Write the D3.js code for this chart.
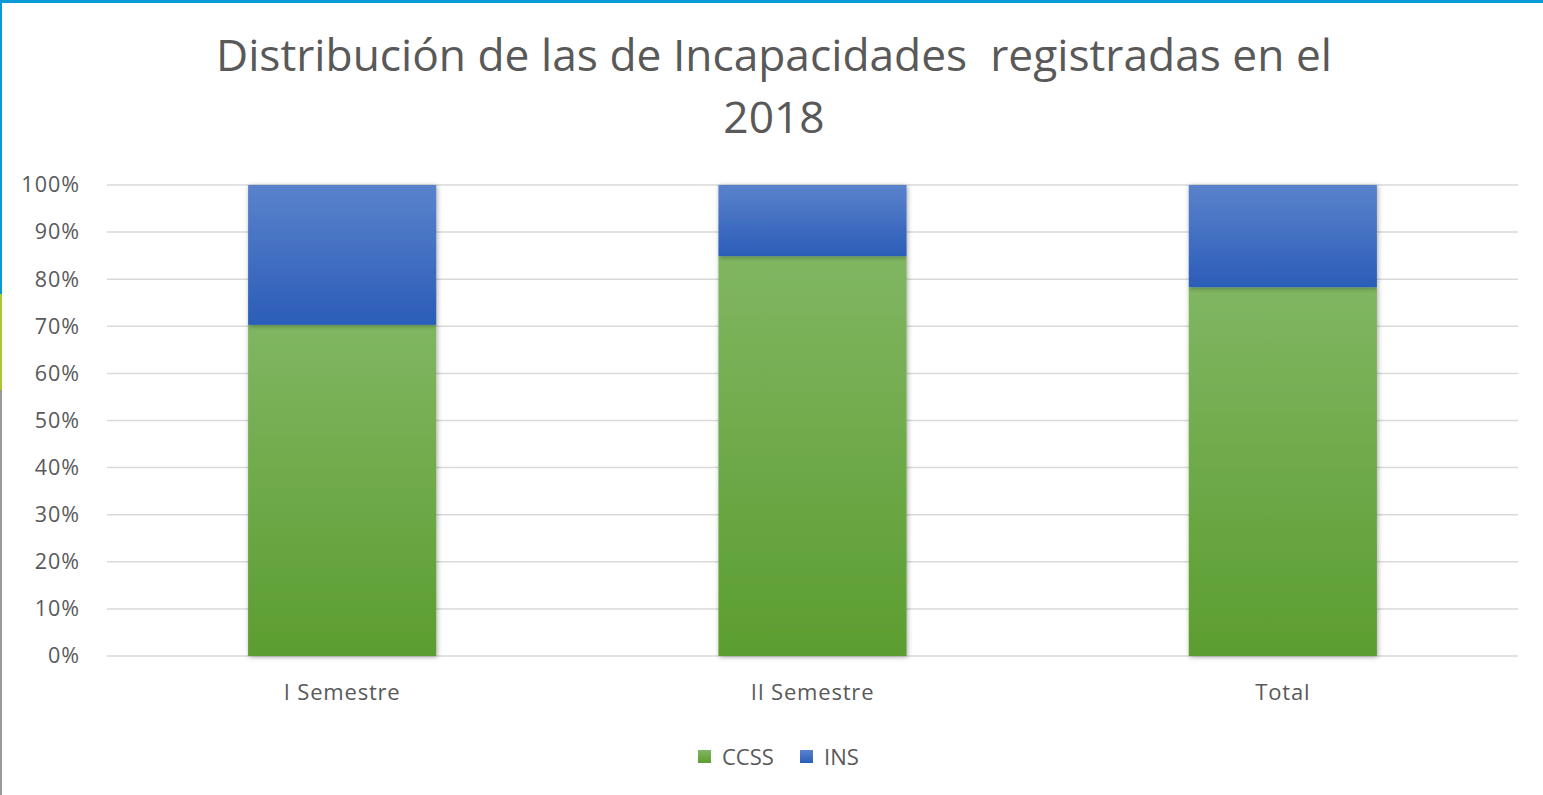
<!DOCTYPE html>
<html><head><meta charset="utf-8">
<script src="https://cdn.jsdelivr.net/npm/d3@7"></script>
<style>body{margin:0;background:#fff;}svg{display:block;}</style>
</head><body>
<script>
const categories = ["I Semestre", "II Semestre", "Total"];
const seriesNames = ["CCSS", "INS"];
const ccss = [0.703, 0.849, 0.783];
const ins = [0.297, 0.151, 0.217];
const yTicks = [0,0.1,0.2,0.3,0.4,0.5,0.6,0.7,0.8,0.9,1.0];
const titleLines = ["Distribución de las de Incapacidades  registradas en el", "2018"];

const W = 1543, H = 795;
const svg = d3.select("body").append("svg").attr("width", W).attr("height", H);
const defs = svg.append("defs");
function grad(id, top, bottom){
  const g = defs.append("linearGradient").attr("id", id).attr("x1",0).attr("y1",0).attr("x2",0).attr("y2",1);
  g.append("stop").attr("offset","0%").attr("stop-color",top);
  g.append("stop").attr("offset","100%").attr("stop-color",bottom);
}
const f = defs.append("filter").attr("id","sh").attr("x","-10%").attr("y","-10%").attr("width","120%").attr("height","120%");
f.append("feDropShadow").attr("dx",1).attr("dy",1).attr("stdDeviation",2.5).attr("flood-color","#000").attr("flood-opacity",0.35);

svg.append("rect").attr("width",W).attr("height",H).attr("fill","#fff");
// border
svg.append("rect").attr("x",0).attr("y",0).attr("width",W).attr("height",3).attr("fill","#0a9ad8");
svg.append("rect").attr("x",0).attr("y",0).attr("width",2).attr("height",294).attr("fill","#0a9ad8");
svg.append("rect").attr("x",0).attr("y",294).attr("width",2).attr("height",96).attr("fill","#a8c832");
svg.append("rect").attr("x",0).attr("y",390).attr("width",2).attr("height",H-390).attr("fill","#9a9a9a");

const x = d3.scaleBand().domain(categories).range([107, 1518]).paddingInner(0.6).paddingOuter(0.3);
const y = d3.scaleLinear().domain([0,1]).range([656, 185]);

const FONT = "'Open Sans', sans-serif";
// gridlines
svg.append("g").selectAll("line").data(yTicks).join("line")
  .attr("x1",107).attr("x2",1518).attr("y1",d=>y(d)).attr("y2",d=>y(d))
  .attr("stroke","#d9d9d9").attr("stroke-width",1.5);

const yAxis = d3.axisLeft(y).tickValues(yTicks).tickFormat(d3.format(".0%")).tickSize(0).tickPadding(0);
const ya = svg.append("g").attr("transform","translate(80,0)").call(yAxis);
ya.select(".domain").remove();
ya.selectAll("text").attr("font-family",FONT).attr("font-size",21.5).attr("letter-spacing",1).attr("fill","#595959");

const colors = {CCSS:["#80b662","#5c9d30"], INS:["#5a82cc","#2b5db8"]};
grad("gCCSS", colors.CCSS[0], colors.CCSS[1]);
grad("gINS", colors.INS[0], colors.INS[1]);

const data = categories.map((c,i)=>({cat:c, CCSS:ccss[i], INS:ins[i]}));
const stack = d3.stack().keys(seriesNames)(data);
svg.append("g").selectAll("g").data(stack).join("g")
  .attr("fill", s=>`url(#g${s.key})`)
  .selectAll("rect").data(s=>s).join("rect")
  .attr("x", d=>x(d.data.cat)).attr("width", x.bandwidth())
  .attr("y", d=>y(d[1])).attr("height", d=>y(d[0])-y(d[1]))
  .attr("filter","url(#sh)");

const xAxis = d3.axisBottom(x).tickSize(0).tickPadding(0);
const xa = svg.append("g").attr("transform","translate(0,700)").call(xAxis);
xa.select(".domain").remove();
xa.selectAll("text").attr("dy",0).attr("font-family",FONT).attr("font-size",22).attr("letter-spacing",0.8).attr("fill","#595959");

// title
svg.append("g").selectAll("text").data(titleLines).join("text")
  .attr("x",774).attr("y",(d,i)=>71+i*62).attr("text-anchor","middle")
  .attr("font-family",FONT).attr("font-size",44.3).attr("fill","#595959")
  .style("white-space","pre").attr("xml:space","preserve").text(d=>d);

// legend
const leg = svg.append("g");
const legX = [698, 800];
seriesNames.forEach((n,i)=>{
  leg.append("rect").attr("x",legX[i]).attr("y",750).attr("width",13).attr("height",13).attr("fill",`url(#g${n})`);
  leg.append("text").attr("x",legX[i]+24).attr("y",765).attr("font-family",FONT).attr("font-size",22).attr("fill","#595959").text(n);
});
</script>
</body></html>
